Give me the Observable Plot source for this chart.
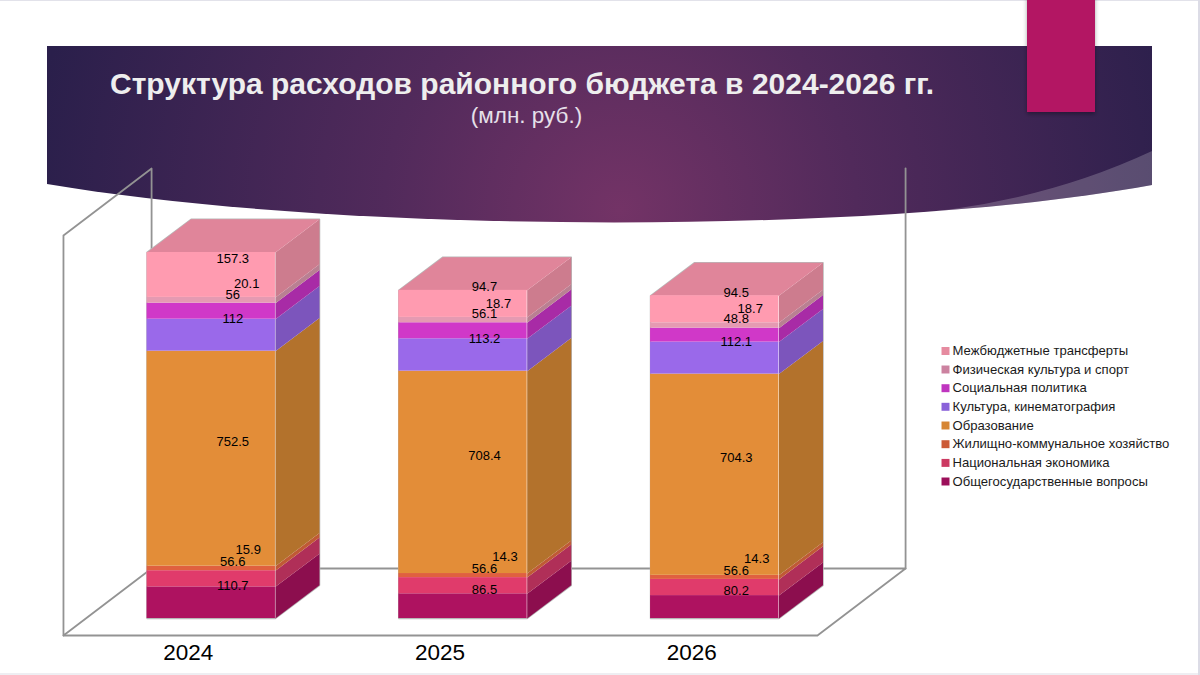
<!DOCTYPE html>
<html lang="ru">
<head>
<meta charset="utf-8">
<script src="https://cdn.jsdelivr.net/npm/d3@7"></script>
<script src="https://cdn.jsdelivr.net/npm/@observablehq/plot@0.6"></script>
<style>
html,body{margin:0;padding:0;background:#fff;width:1200px;height:675px;overflow:hidden}
svg{display:block;font-family:"Liberation Sans",Arial,sans-serif}
</style>
</head>
<body>
<div id="chart"></div>
<script>
const years = ["2024", "2025", "2026"];
const categories = [
  "Общегосударственные вопросы",
  "Национальная экономика",
  "Жилищно-коммунальное хозяйство",
  "Образование",
  "Культура, кинематография",
  "Социальная политика",
  "Физическая культура и спорт",
  "Межбюджетные трансферты"
];
const values2024 = [110.7, 56.6, 15.9, 752.5, 112, 56, 20.1, 157.3];
const values2025 = [86.5, 56.6, 14.3, 708.4, 113.2, 56.1, 18.7, 94.7];
const values2026 = [80.2, 56.6, 14.3, 704.3, 112.1, 48.8, 18.7, 94.5];
const frontColors = ["#ae1260", "#e03b6b", "#e0603f", "#e38d38", "#9a69ea", "#d038c8", "#e59ab2", "#ff9bb0"];
const sideColors = ["#8c0e4e", "#b02f58", "#c05a35", "#b3722c", "#7c55bc", "#a82ba6", "#b98092", "#cd7c8e"];
const legendColors = ["#9c0f5a", "#cc3a62", "#cc5a36", "#d68534", "#8a62d9", "#bf35bf", "#cc82a0", "#e68ba0"];
const topColor = "#e0859a";
const axisMax = 1400;

const series = [values2024, values2025, values2026];
const halfBar = 0.255, depthX = 0.175, depthY = 116;
const floorFrontY = -59.5, floorDepthY = 234.5, floorDepthX = 0.35;
const wallL = -0.587, wallR = 2.408;

const rows = series.flatMap((vals, i) => {
  let sum = 0;
  return vals.map((v, c) => {
    const row = {i, c, v, y1: sum, y2: sum + v, category: categories[c]};
    sum += v;
    return row;
  });
});
const totals = series.map(vals => d3.sum(vals));

const poly = (id, pts, color) => pts.map(([x, y]) => ({id, x, y, color}));
const sidePts = rows.flatMap(d => {
  const r = d.i + halfBar;
  return poly(`s${d.i}-${d.c}`, [[r, d.y1], [r + depthX, d.y1 + depthY], [r + depthX, d.y2 + depthY], [r, d.y2]], sideColors[d.c]);
});
const topPts = totals.flatMap((t, i) => poly(`t${i}`, [
  [i - halfBar, t], [i + halfBar, t], [i + halfBar + depthX, t + depthY], [i - halfBar + depthX, t + depthY]
], topColor));
const outlinePts = totals.flatMap((t, i) => poly(`o${i}`, [
  [i - halfBar, 0], [i + halfBar, 0], [i + halfBar + depthX, depthY], [i + halfBar + depthX, t + depthY],
  [i - halfBar + depthX, t + depthY], [i - halfBar, t]
], "#b8b8b8"));

const wallPaths = [
  [[wallL, floorFrontY + axisMax], [wallL + floorDepthX, floorFrontY + floorDepthY + axisMax], [wallL + floorDepthX, floorFrontY + floorDepthY], [wallL, floorFrontY], [wallL, floorFrontY + axisMax]],
  [[wallL + floorDepthX, floorFrontY + floorDepthY], [wallR + floorDepthX, floorFrontY + floorDepthY], [wallR, floorFrontY], [wallL, floorFrontY]],
  [[wallR + floorDepthX, floorFrontY + floorDepthY], [wallR + floorDepthX, floorFrontY + floorDepthY + axisMax]]
].flatMap((p, k) => poly(`w${k}`, p, "#939393"));

// a few labels were nudged sideways in the original to avoid overlap
const pxPerIndex = 251.75;
const nudgePx = d => d.c === 6 ? 14 : d.c === 2 ? (d.i > 0 ? 20.5 : 15.5) : 0;
const labelRows = rows.map(d => ({
  ...d,
  lx: d.i + depthX / 2 + nudgePx(d) / pxPerIndex,
  ly: (d.y1 + d.y2) / 2 + depthY / 2 + (d.c === 2 ? 8 : 0)
}));

function banner() {
  const ns = "http://www.w3.org/2000/svg";
  const g = document.createElementNS(ns, "g");
  g.innerHTML = `
    <defs>
      <radialGradient id="bn" gradientUnits="userSpaceOnUse" cx="620" cy="210" r="590">
        <stop offset="0" stop-color="#733366"/>
        <stop offset="0.4" stop-color="#512a5b"/>
        <stop offset="1" stop-color="#2a1f4b"/>
      </radialGradient>
      <clipPath id="bnc"><path d="M47,46H1152V185C880,235 350,235 47,184Z"/></clipPath>
      <filter id="shd" x="-30%" y="-10%" width="160%" height="130%"><feDropShadow dx="0" dy="2" stdDeviation="2" flood-color="#000" flood-opacity=".35"/></filter>
    </defs>
    <rect x="0" y="0" width="1200" height="1" fill="#e2e2ea"/>
    <rect x="0" y="673" width="1200" height="2" fill="#eeeef2"/>
    <rect x="1198" y="0" width="2" height="675" fill="#dcdce6"/>
    <path d="M47,46H1152V185C880,235 350,235 47,184Z" fill="url(#bn)"/>
    <path d="M1152,151Q1030,208 880,216V240H1152Z" fill="#fff" fill-opacity=".2" clip-path="url(#bnc)"/>`;
  return g;
}
function ribbon() {
  const ns = "http://www.w3.org/2000/svg";
  const g = document.createElementNS(ns, "g");
  g.innerHTML = `<rect x="1027" y="-5" width="68" height="117" fill="#b31263" filter="url(#shd)"/>`;
  return g;
}

const legendRowY = [350.5, 369, 387.7, 406.3, 425, 443.7, 462.4, 481];
const legendOrder = d3.range(categories.length).reverse();
const legendMarks = legendOrder.flatMap((c, k) => [
  Plot.dot([categories[c]], {frameAnchor: "top-left", dx: 945, dy: legendRowY[k], symbol: "square", r: 4.5, fill: legendColors[c], stroke: "none"}),
  Plot.text([categories[c]], {frameAnchor: "top-left", dx: 952, dy: legendRowY[k], text: d => d, textAnchor: "start", lineAnchor: "middle", fontSize: 13.1, fill: "#1a1a1a"})
]);

const chart = Plot.plot({
  width: 1200,
  height: 675,
  marginTop: 0, marginRight: 0, marginLeft: 0, marginBottom: 57,
  style: {background: "transparent", fontFamily: '"Liberation Sans", Arial, sans-serif'},
  x: {domain: [0, 2], range: [210.75, 714.25], axis: null},
  y: {domain: [0, 2163], range: [618, 0], axis: null},
  color: {type: "identity"},
  marks: [
    banner,
    Plot.line(wallPaths, {x: "x", y: "y", z: "id", stroke: "color", strokeWidth: 1.8}),
    Plot.line(outlinePts, {x: "x", y: "y", z: "id", stroke: "color", strokeWidth: 1.5, curve: "linear-closed", fill: "#fff"}),
    Plot.line(sidePts, {x: "x", y: "y", z: "id", fill: "color", stroke: "none", curve: "linear-closed"}),
    Plot.line(topPts, {x: "x", y: "y", z: "id", fill: "color", stroke: "none", curve: "linear-closed"}),
    Plot.rect(rows, {x1: d => d.i - halfBar, x2: d => d.i + halfBar, y1: "y1", y2: "y2", fill: d => frontColors[d.c]}),
    Plot.text(labelRows, {x: "lx", y: "ly", dx: -0.5, text: d => String(d.v), fontSize: 13, fill: "#000"}),
    Plot.axisX({ticks: [0, 1, 2], tickFormat: i => years[i], tickSize: 0, tickPadding: 26, fontSize: 22.5, dx: -23, fill: "#000", label: null}),
    ribbon,
    Plot.text(["Структура расходов районного бюджета в 2024-2026 гг."], {frameAnchor: "top-left", dx: 521.5, dy: 84, text: d => d, textAnchor: "middle", fontSize: 30, fontWeight: "bold", fill: "#eeeeee", lineAnchor: "middle"}),
    Plot.text(["(млн. руб.)"], {frameAnchor: "top-left", dx: 526, dy: 115, text: d => d, textAnchor: "middle", fontSize: 22.5, fill: "#e6e0ea", lineAnchor: "middle"}),
    ...legendMarks
  ]
});
document.getElementById("chart").append(chart);
</script>
</body>
</html>
